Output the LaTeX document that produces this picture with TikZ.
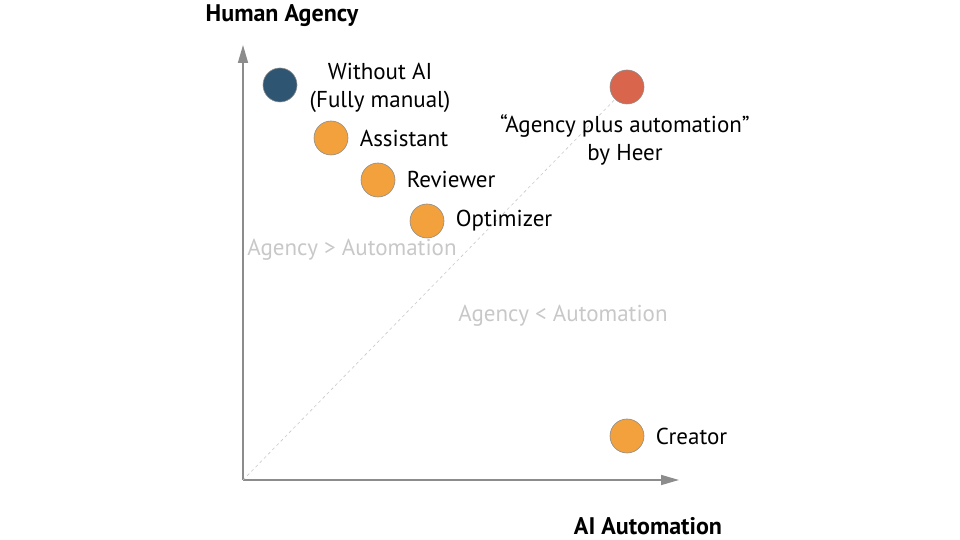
\documentclass[tikz,border=0pt]{standalone}
\usepackage{fontspec}
\setmainfont{PT Sans}
\usepackage{xcolor}
\usetikzlibrary{arrows.meta,positioning}

\definecolor{manualblue}{HTML}{2E5572}
\definecolor{aiorange}{HTML}{F2A13D}
\definecolor{heerred}{HTML}{D9664C}
\definecolor{axisgray}{HTML}{8C8C8C}
\definecolor{zonegray}{HTML}{C8C8C8}

\begin{document}
\begin{tikzpicture}[
    % GLOBAL CFG
    x=1pt, y=1pt,
    font=\fontsize{23}{28}\selectfont,
    % Styles
    dot/.style={% For the points in the plane
        circle,
        draw=axisgray,
        line width=.6pt,
        minimum size=34pt,
        inner sep=0pt,
        },
    axis/.style={% For the two axes
        draw=axisgray,
        line width=1.6pt,
        -{Triangle[length=18pt,width=10pt]},
        },
    axlabel/.style={% Axis titles
        font=\fontsize{24}{28}\selectfont\bfseries,
        inner sep=0pt,
        },
    zone/.style={% Grey region texts
        text=zonegray,
        },
    ]

    \useasboundingbox (0,0) rectangle (960,540);

    % Draw the axes
    \coordinate (o) at (243,60);
    \coordinate (ytip) at (243,495);
    \coordinate (xtip) at (679,60);
    \draw [axis] (o) -- (ytip);
    \draw [axis] (o) -- (xtip);
    \node [axlabel] (ylab) at (282,524) {Human Agency};
    \node [axlabel] (xlab) at (648,14) {AI Automation};

    % Draw the points named p#
    \node [dot, fill=manualblue] (p0) at (280,455) {};
    \node [dot, fill=aiorange] (p1) at (331,402) {};
    \node [dot, fill=aiorange] (p2) at (378,360) {};
    \node [dot, fill=aiorange] (p3) at (427,319) {};
    \node [dot, fill=heerred] (p4) at (627,453) {};
    \node [dot, fill=aiorange] (p5) at (627,104) {};

    % Diagonal
    \draw [zonegray, dashed, line width=.6pt] (o) -- (p4);

    % Labels
    \node [align=center] (l0) at (380,452) {Without AI\\(Fully manual)};
    \node [right=8pt of p1] (l1) {Assistant};
    \node [right=8pt of p2] (l2) {Reviewer};
    \node [right=8pt of p3] (l3) {Optimizer};
    \node [align=center] (l4) at (625,400) {``Agency plus automation''\\by Heer};
    \node [right=8pt of p5] (l5) {Creator};

    % Zones
    \node [zone] (z1) at (352,290) {Agency > Automation};
    \node [zone] (z2) at (563,224) {Agency < Automation};

\end{tikzpicture}
\end{document}
